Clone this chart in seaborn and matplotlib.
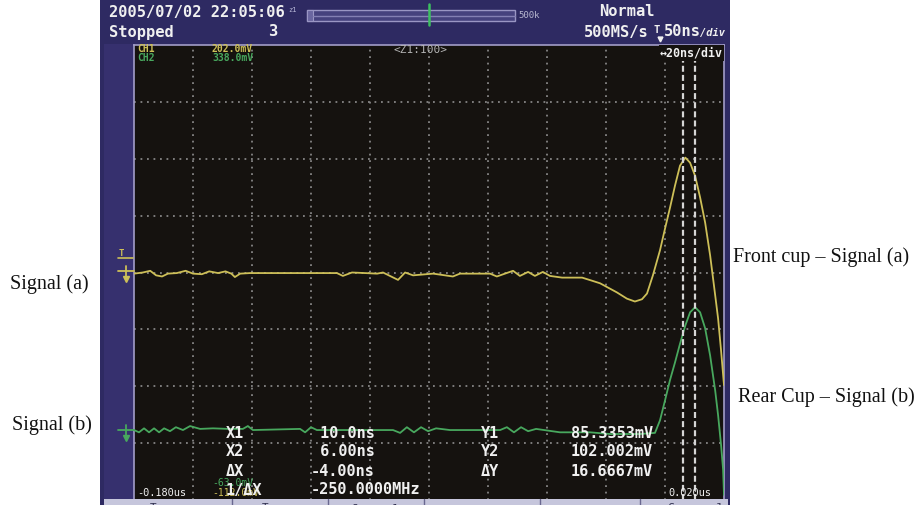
import numpy as np
import pandas as pd
import matplotlib
matplotlib.use("Agg")
import matplotlib.pyplot as plt
import seaborn as sns
from matplotlib.patches import Rectangle
from matplotlib.lines import Line2D

# ---------------- data (time in ns, amplitude in screen divisions) ----------------
time_a = [-180.0, -177.0, -174.5, -172.5, -170.5, -168.5, -165.5, -162.5, -160.0, -157.0,
          -154.5, -151.5, -149.0, -147.0, -145.8, -144.0, -140.7, -111.2, -109.2, -106.1,
          -101.7, -97.6, -95.6, -90.5, -88.1, -85.4, -78.6, -71.9, -69.5, -59.3,
          -57.0, -51.5, -49.2, -46.4, -44.1, -41.4, -39.0, -34.9, -28.1, -24.4,
          -22.0, -16.3, -12.9, -10.2, -7.8, -6.1, -4.1, -1.7, 0.0, 1.7,
          3.4, 5.1, 6.9, 8.5, 10.2, 11.9, 13.6, 15.3, 16.6, 18.0, 19.0, 20.0]
ch1 = [3.98, 4.00, 4.03, 3.95, 3.93, 3.98, 3.99, 4.03, 3.98, 3.97,
       4.02, 3.99, 4.02, 3.98, 3.92, 3.98, 3.99, 3.99, 3.94, 4.00,
       3.99, 3.98, 4.00, 3.87, 4.00, 3.95, 3.98, 3.93, 3.98, 3.98,
       3.93, 4.03, 3.94, 4.01, 3.94, 4.01, 3.94, 3.91, 3.91, 3.85,
       3.81, 3.65, 3.54, 3.49, 3.53, 3.63, 3.95, 4.39, 4.77, 5.14,
       5.53, 5.88, 6.02, 5.93, 5.70, 5.32, 4.88, 4.30, 3.77, 3.19, 2.63, 2.02]

time_b = [-180.0, -178.3, -176.6, -174.9, -173.2, -171.5, -169.8, -167.8, -165.8, -163.4,
          -161.0, -157.6, -153.2, -148.1, -143.1, -141.4, -139.7, -123.7, -122.0, -120.0,
          -118.0, -92.2, -89.8, -87.5, -85.1, -82.7, -80.3, -77.6, -72.9, -55.9,
          -53.6, -51.2, -48.8, -46.4, -43.7, -35.6, -25.4, -18.6, -8.5, -3.4,
          -1.7, 0.0, 1.7, 3.4, 5.1, 6.9, 8.5, 10.2, 11.9, 13.6,
          15.3, 17.0, 18.0, 19.0, 19.7, 20.0]
ch2 = [1.23, 1.19, 1.26, 1.19, 1.26, 1.19, 1.26, 1.21, 1.28, 1.23,
       1.30, 1.25, 1.26, 1.25, 1.25, 1.30, 1.23, 1.25, 1.19, 1.28,
       1.23, 1.23, 1.18, 1.28, 1.19, 1.28, 1.21, 1.26, 1.23, 1.23,
       1.28, 1.19, 1.28, 1.21, 1.25, 1.19, 1.19, 1.16, 1.16, 1.18,
       1.40, 1.75, 2.11, 2.42, 2.75, 3.07, 3.30, 3.39, 3.30, 3.02,
       2.54, 1.93, 1.49, 0.97, 0.53, 0.09]

cursor_times = [6.0, 10.0]
x_labels = ["X1", "X2", "\u0394X", "1/\u0394X"]
x_values = [" 10.0ns", " 6.00ns", "-4.00ns", "-250.0000MHz"]
y_labels = ["Y1", "Y2", "\u0394Y"]
y_values = ["85.3353mV", "102.002mV", "16.6667mV"]
softkeys = ["Type", "Trace", "\u25a0 Cursor1", "Cursor Ju"]

# ---------------- figure ----------------
sns.set_style("white")
plt.rcParams['font.family'] = ['DejaVu Sans Mono', 'DejaVu Sans']

W, H = 916, 505
fig = plt.figure(figsize=(W / 100, H / 100), dpi=100, facecolor="white")

def fx(px):
    return px / W

def fy(py):
    return 1 - py / H

def ftext(px, py, s, **kw):
    kw.setdefault("va", "center")
    kw.setdefault("ha", "left")
    return fig.text(fx(px), fy(py), s, **kw)

def frect(x0, y0, x1, y1, **kw):
    r = Rectangle((fx(x0), fy(y1)), fx(x1) - fx(x0), fy(y0) - fy(y1),
                  transform=fig.transFigure, **kw)
    fig.add_artist(r)
    return r

def fline(xs, ys, **kw):
    l = Line2D([fx(v) for v in xs], [fy(v) for v in ys], transform=fig.transFigure, **kw)
    fig.add_artist(l)
    return l

NAVY = "#2e2a62"
WHITE = "#f0f0f0"
YEL = "#cdbf58"
GRN = "#48a85e"

# scope bezel
frect(100, 0, 730, 505, facecolor=NAVY, edgecolor="none", zorder=0)
frect(104, 44, 134, 499, facecolor="#36306e", edgecolor="none", zorder=0)

# screen axes
ax = fig.add_axes([fx(134), fy(500), fx(724) - fx(134), fy(45) - fy(500)])
ax.set_facecolor("#15120f")
ax.set_xlim(-180, 20)
ax.set_ylim(0, 8)
ax.set_xticks(np.arange(-160, 20, 20))
ax.set_yticks(np.arange(1, 8, 1))
ax.tick_params(length=0, labelbottom=False, labelleft=False)
ax.grid(True, color="#858585", linestyle=(0, (1.0, 2.6)), linewidth=1.3)
ax.set_axisbelow(True)
for s in ax.spines.values():
    s.set_color("#a29dc8")
    s.set_linewidth(1.2)

df_a = pd.DataFrame({"t": time_a, "v": ch1})
df_b = pd.DataFrame({"t": time_b, "v": ch2})
sns.lineplot(data=df_a, x="t", y="v", ax=ax, color=YEL, linewidth=1.3, sort=False, estimator=None, zorder=3)
sns.lineplot(data=df_b, x="t", y="v", ax=ax, color=GRN, linewidth=1.3, sort=False, estimator=None, zorder=3)
for ct in cursor_times:
    ax.axvline(ct, color="#d6d6d6", linestyle=(0, (2.7, 1.4)), linewidth=1.6, zorder=4)
ax.set_xlabel("")
ax.set_ylabel("")

# ---------------- header texts ----------------
hdr = dict(color=WHITE, fontsize=11.1, fontweight="bold", family="DejaVu Sans Mono")
ftext(109, 12, "2005/07/02 22:05:06", **hdr)
ftext(288, 10, "z1", color="#b8b8d8", fontsize=5)
frect(307, 10, 515, 21, facecolor="#46427e", edgecolor="#9a96c4", linewidth=1, zorder=1)
frect(307, 10, 313, 21, facecolor="#6a66a0", edgecolor="#9a96c4", linewidth=0.8, zorder=2)
fline([313, 515], [15.5, 15.5], color="#8480b4", linewidth=1, zorder=2)
fline([429, 429], [4, 25], color="#3cc060", linewidth=1.8, zorder=3)
ftext(518, 15, "500k", color="#b8b8d0", fontsize=6.5)
ftext(599, 12, "Normal", **hdr)
ftext(109, 32, "Stopped", **hdr)
ftext(268, 32, "3", **hdr)
ftext(584, 32, "500MS/s", **hdr)
ftext(653, 30, "T", color=WHITE, fontsize=7.5, fontweight="bold")
fig.add_artist(Line2D([fx(660)], [fy(39)], marker="v", markersize=3.5, color=WHITE,
                      transform=fig.transFigure))
ftext(664, 32, "50ns", **hdr)
ftext(700, 33, "/div", color=WHITE, fontsize=7.5, fontweight="bold", style="italic")

# ---------------- on-screen texts ----------------
small = dict(fontsize=7.0, fontweight="bold")
ftext(137, 49, "CH1", color=YEL, **small)
ftext(212, 49, "202.0mV", color=YEL, **small)
ftext(137, 58, "CH2", color=GRN, **small)
ftext(212, 58, "338.0mV", color=GRN, **small)
ftext(393, 50, "<Z1:100>", color="#b4b4b4", fontsize=8)
ftext(660, 53, "\u219420ns/div", color=WHITE, fontsize=8.4, fontweight="bold",
      bbox=dict(boxstyle="square,pad=0.1", facecolor="#15120f", edgecolor="none"))

rows_y = [433, 452, 471, 490]
tbl = dict(color=WHITE, fontsize=11.0, fontweight="bold", zorder=6)
ftext(212, 483, "-63.0mV", color=GRN, fontsize=7, zorder=5)
ftext(212, 493, "-112.0mV", color=YEL, fontsize=7, zorder=5)
for lab, val, yy in zip(x_labels, x_values, rows_y):
    ftext(226, yy, lab, **tbl)
    ftext(311, yy, val, **tbl)
for lab, val, yy in zip(y_labels, y_values, rows_y):
    ftext(481, yy, lab, **tbl)
    ftext(571, yy, val, **tbl)
ftext(137, 493, "-0.180us", color=WHITE, fontsize=7.4)
ftext(668, 493, "0.020us", color=WHITE, fontsize=7.4)

# left-side channel markers
ftext(119, 253, "T", color=YEL, fontsize=6.5, fontweight="bold")
fline([118, 133], [258, 258], color=YEL, linewidth=1.2)
fline([118, 134], [271, 271], color=YEL, linewidth=1.3)
fline([126, 126], [266, 276], color=YEL, linewidth=1.3)
fig.add_artist(Line2D([fx(126)], [fy(279)], marker="v", markersize=4, color=YEL,
                      transform=fig.transFigure))
fline([118, 134], [430, 430], color=GRN, linewidth=1.3)
fline([126, 126], [425, 435], color=GRN, linewidth=1.3)
fig.add_artist(Line2D([fx(126)], [fy(438)], marker="v", markersize=4, color=GRN,
                      transform=fig.transFigure))

# bottom soft-key bar (only its top edge is visible, as in the reference)
frect(104, 499, 728, 505, facecolor="#c6c6dc", edgecolor="none", zorder=7)
for dx in [232, 328, 424, 540, 640]:
    fline([dx, dx], [499, 505], color="#6a6890", linewidth=1, zorder=8)
for px, s in zip([150, 262, 338, 668], softkeys):
    ftext(px, 508, s, color="#303050", fontsize=8, zorder=9)

# ---------------- annotations outside the screen ----------------
serif = dict(family="Liberation Serif", fontsize=14.5, color="#111111")
ftext(733, 257, "Front cup \u2013 Signal (a)", **serif)
ftext(738, 397, "Rear Cup \u2013 Signal (b)", **serif)
ftext(10, 284, "Signal (a)", **serif)
ftext(12, 425, "Signal (b)", **serif)

fig.savefig("out.png", dpi=100, facecolor="white")
